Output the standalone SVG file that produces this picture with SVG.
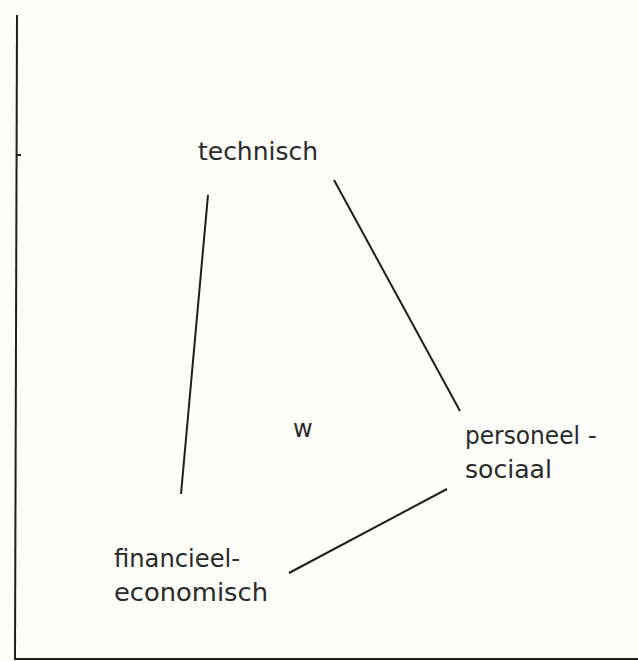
<svg xmlns="http://www.w3.org/2000/svg" width="638" height="661" viewBox="0 0 638 661">
<style>
.t{font-family:"DejaVu Sans","Liberation Sans",sans-serif;font-size:24px;fill:#2a2a2a}
.ln{stroke:#1e1e1e;stroke-width:2;fill:none}
</style>
<rect width="638" height="661" fill="#fdfdf9"/>
<g id="frame">
<line class="ln" x1="17" y1="15" x2="15" y2="660"/>
<line class="ln" x1="14" y1="659" x2="638" y2="659"/>
<line class="ln" x1="17" y1="155" x2="21" y2="155"/>
</g>
<g id="connectors">
<line class="ln" x1="208" y1="195" x2="181" y2="494"/>
<line class="ln" x1="334" y1="180" x2="460" y2="411"/>
<line class="ln" x1="447" y1="489" x2="289" y2="573"/>
</g>
<g id="technisch"><text class="t" x="198" y="160" textLength="120" lengthAdjust="spacingAndGlyphs">technisch</text></g>
<g id="w"><text class="t" x="293" y="437">w</text></g>
<g id="personeel"><text class="t" x="465" y="444" textLength="115" lengthAdjust="spacingAndGlyphs">personeel</text><text class="t" x="588" y="444">-</text><text class="t" x="465" y="478" textLength="87" lengthAdjust="spacingAndGlyphs">sociaal</text></g>
<g id="financieel"><text class="t" x="114" y="567" textLength="126" lengthAdjust="spacingAndGlyphs">financieel-</text><text class="t" x="114" y="601" textLength="154" lengthAdjust="spacingAndGlyphs">economisch</text></g>
</svg>
